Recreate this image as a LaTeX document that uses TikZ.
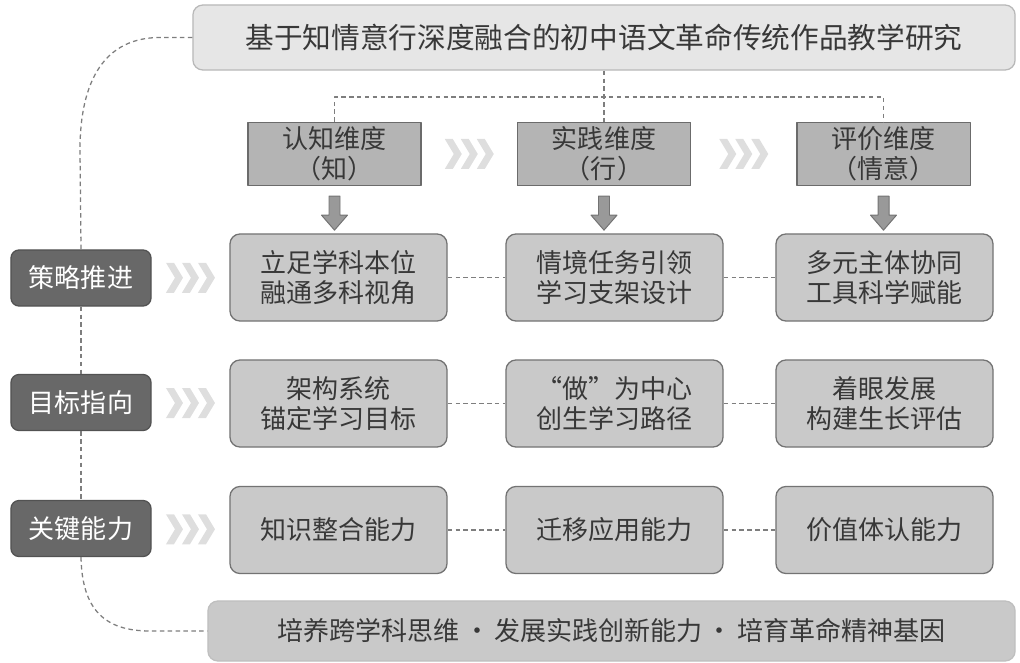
\documentclass[tikz,border=0pt]{standalone}
\usepackage{fontspec}
\newfontfamily\cjk{Noto Sans CJK SC}
\usetikzlibrary{calc}
\definecolor{txtgray}{HTML}{383838}
\definecolor{titlefill}{HTML}{E6E6E6}
\definecolor{dimfill}{HTML}{B4B4B4}
\definecolor{rowfill}{HTML}{C9C9C9}
\definecolor{labfill}{HTML}{686868}
\definecolor{linegray}{HTML}{7E7E7E}
\definecolor{chevgray}{HTML}{DEDEDE}

% block arrow under a dimension box
\newcommand{\blockarrow}[1]{%
  \draw[blk] ($(#1.south)+(-5.5,10)$) -- ($(#1.south)+(5.5,10)$) -- ($(#1.south)+(5.5,29)$)
    -- ($(#1.south)+(13,29)$) -- ($(#1.south)+(0,44)$) -- ($(#1.south)+(-13,29)$)
    -- ($(#1.south)+(-5.5,29)$) -- cycle;}
% three chevrons centred between two nodes
\newcommand{\chevrons}[2]{%
  \foreach \k in {0,1,2}
    \fill[chevgray] ($(#1)!0.5!(#2)+(-24.5+16*\k,-15)$) -- ++(8,0) -- ++(9,15) -- ++(-9,15) -- ++(-8,0) -- ++(9,-15) -- cycle;}

\begin{document}
\begin{tikzpicture}[x=0.025cm, y=-0.025cm, font=\cjk\fontsize{18.5}{21.5}\selectfont, line join=round,
    title/.style={draw=black!28, line width=0.9pt, fill=titlefill, rounded corners=0.25cm, text=txtgray,
      minimum width=20.55cm, minimum height=1.625cm, font=\cjk\fontsize{20.4}{24}\selectfont},
    dimbox/.style={draw=black!58, line width=0.9pt, fill=dimfill, text=txtgray, align=center,
      minimum width=4.33cm, minimum height=1.575cm, inner sep=0pt},
    rowbox/.style={draw=black!55, line width=0.9pt, fill=rowfill, rounded corners=0.25cm, text=txtgray,
      align=center, minimum width=5.425cm, minimum height=2.175cm, inner sep=0pt},
    lab/.style={draw=black!68, line width=0.9pt, fill=labfill, rounded corners=0.2cm, text=white,
      minimum width=3.5cm, minimum height=1.4cm, inner sep=0pt},
    bottom/.style={draw=black!25, line width=0.9pt, fill=rowfill, rounded corners=0.25cm, text=txtgray,
      minimum width=20.175cm, minimum height=1.5cm},
    link/.style={draw=linegray, dashed, line width=0.9pt, dash pattern=on 3.2pt off 2.4pt},
    blk/.style={draw=black!55, line width=0.7pt, fill=black!40}]
  \useasboundingbox (0,0) rectangle (1020,663);

  % title and the three dimensions
  \node[title] (top) at (604,37.5) {基于知情意行深度融合的初中语文革命传统作品教学研究};
  \node[dimbox] (d1) at (334.5,154) {认知维度\\（知）};
  \node[dimbox] (d2) at (604,154) {实践维度\\（行）};
  \node[dimbox] (d3) at (883.5,154) {评价维度\\（情意）};

  % left labels
  \node[lab] (l1) at (81,278) {策略推进};
  \node[lab] (l2) at (81,402.5) {目标指向};
  \node[lab] (l3) at (81,528.5) {关键能力};

  % grid of boxes
  \node[rowbox] (r11) at (338.5,277.5) {立足学科本位\\融通多科视角};
  \node[rowbox] (r12) at (614.5,277.5) {情境任务引领\\学习支架设计};
  \node[rowbox] (r13) at (884.5,277.5) {多元主体协同\\工具科学赋能};
  \node[rowbox] (r21) at (338.5,403.5) {架构系统\\锚定学习目标};
  \node[rowbox] (r22) at (614.5,403.5) {“做”为中心\\创生学习路径};
  \node[rowbox] (r23) at (884.5,403.5) {着眼发展\\构建生长评估};
  \node[rowbox] (r31) at (338.5,530) {知识整合能力};
  \node[rowbox] (r32) at (614.5,530) {迁移应用能力};
  \node[rowbox] (r33) at (884.5,530) {价值体认能力};

  \node[bottom] (bot) at (611.5,631) {培养跨学科思维\,·\,发展实践创新能力\,·\,培育革命精神基因};

  % dashed bracket from the title
  \coordinate (bar) at (604,97);
  \draw[link] (top.south) -- (d2.north);
  \draw[link] (d1.north) |- (bar) -| (d3.north);

  % dashed links in the rows
  \foreach \r in {1,2,3} {
    \draw[link] (r\r1.east) -- (r\r2.west);
    \draw[link] (r\r2.east) -- (r\r3.west);
  }

  % left dashed spine
  \draw[link] (top.west) -- (160,37.5) .. controls (105,37.5) and (80,80) .. (80,150) -- (l1.north);
  \draw[link] (l1.south) -- (l2.north);
  \draw[link] (l2.south) -- (l3.north);
  \draw[link] (l3.south) .. controls (82,610) and (105,631) .. (150,631) -- (bot.west);

  % arrows and chevrons
  \blockarrow{d1}
  \blockarrow{d2}
  \blockarrow{d3}
  \chevrons{d1.east}{d2.west}
  \chevrons{d2.east}{d3.west}
  \chevrons{l1.east}{r11.west}
  \chevrons{l2.east}{r21.west}
  \chevrons{l3.east}{r31.west}
\end{tikzpicture}
\end{document}
